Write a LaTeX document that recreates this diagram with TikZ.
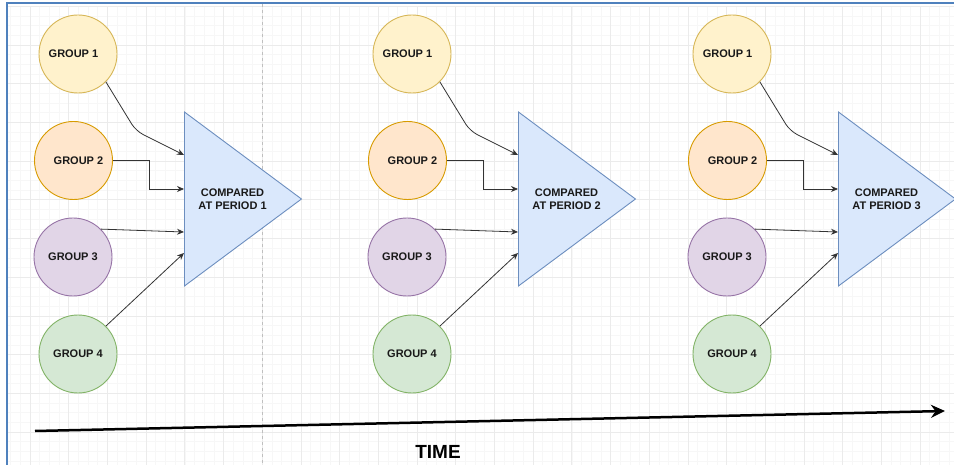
\documentclass[tikz,border=0pt]{standalone}
\usepackage{fontspec}
\setmainfont{Liberation Sans}
\usetikzlibrary{arrows.meta,shapes.geometric,calc}

\definecolor{ylwfill}{HTML}{FFF2CC}
\definecolor{ylwline}{HTML}{D6B656}
\definecolor{orgfill}{HTML}{FFE6CC}
\definecolor{orgline}{HTML}{D79B00}
\definecolor{prpfill}{HTML}{E1D5E7}
\definecolor{prpline}{HTML}{9673A6}
\definecolor{grnfill}{HTML}{D5E8D4}
\definecolor{grnline}{HTML}{82B366}
\definecolor{cmpfill}{HTML}{DAE8FC}
\definecolor{cmpline}{HTML}{6C8EBF}
\definecolor{framecol}{HTML}{4F81BD}

\begin{document}
\begin{tikzpicture}[
    x=1pt, y=-1pt,
    grp/.style={circle, draw, line width=0.9pt, minimum size=78pt, inner sep=0pt},
    grptxt/.style={font=\fontsize{11}{13}\selectfont\bfseries, text=black!90},
    cmp/.style={isosceles triangle, isosceles triangle stretches, shape border rotate=0,
        draw=cmpline, fill=cmpfill, line width=0.9pt, minimum width=174pt,
        minimum height=117pt, inner sep=0pt, anchor=lower side},
    cmptxt/.style={align=center, font=\fontsize{11}{13}\selectfont\bfseries, text=black!90},
    arrow/.style={-{Stealth[length=7pt,width=6pt]}, draw=black!80, line width=0.8pt}
]
\useasboundingbox[fill=white] (0,0) rectangle (954,465);

% Background grid
\begin{scope}
\clip (8,4) rectangle (954,465);
\draw[black!3, line width=0.6pt, shift={(-8.7,6.3)}, step=9.675pt] (0,0) grid (980,480);
\draw[black!8, line width=0.7pt, shift={(-8.7,6.3)}, step=38.7pt] (0,0) grid (980,480);
\end{scope}
\draw[gray!50, line width=0.8pt, dash pattern=on 3pt off 3pt] (262,4) -- (262,465);
\draw[framecol, line width=2pt] (7,465) -- (7,3) -- (954,3);

% Period 1
\node[grp, fill=ylwfill, draw=ylwline, label={[grptxt, xshift=-4.5pt]center:GROUP 1}] (a1) at (78,54) {};
\node[grp, fill=orgfill, draw=orgline, label={[grptxt, xshift=5pt]center:GROUP 2}] (a2) at (73.5,160.5) {};
\node[grp, fill=prpfill, draw=prpline, label={[grptxt]center:GROUP 3}] (a3) at (73,257) {};
\node[grp, fill=grnfill, draw=grnline, label={[grptxt]center:GROUP 4}] (a4) at (78,354) {};
\node[cmp] (ca) at (184,199) {};
\node[cmptxt] (la) at (232.5,199.5) {COMPARED\\AT PERIOD 1};

% Period 2
\node[grp, fill=ylwfill, draw=ylwline, label={[grptxt, xshift=-4.5pt]center:GROUP 1}] (b1) at (412,54) {};
\node[grp, fill=orgfill, draw=orgline, label={[grptxt, xshift=5pt]center:GROUP 2}] (b2) at (407.5,160.5) {};
\node[grp, fill=prpfill, draw=prpline, label={[grptxt]center:GROUP 3}] (b3) at (407,257) {};
\node[grp, fill=grnfill, draw=grnline, label={[grptxt]center:GROUP 4}] (b4) at (412,354) {};
\node[cmp] (cb) at (518,199) {};
\node[cmptxt] (lb) at (566.5,199.5) {COMPARED\\AT PERIOD 2};

% Period 3
\node[grp, fill=ylwfill, draw=ylwline, label={[grptxt, xshift=-4.5pt]center:GROUP 1}] (c1) at (732,54) {};
\node[grp, fill=orgfill, draw=orgline, label={[grptxt, xshift=5pt]center:GROUP 2}] (c2) at (727.5,160.5) {};
\node[grp, fill=prpfill, draw=prpline, label={[grptxt]center:GROUP 3}] (c3) at (727,257) {};
\node[grp, fill=grnfill, draw=grnline, label={[grptxt]center:GROUP 4}] (c4) at (732,354) {};
\node[cmp] (cc) at (838,199) {};
\node[cmptxt] (lc) at (886.5,199.5) {COMPARED\\AT PERIOD 3};

% Arrows
\draw[arrow, rounded corners=8pt] (a1.-45) -- ++(30,49) -- ($(ca.lower side)+(0,-44)$);
\draw[arrow] (a2.east) -- ++(36,0) |- ($(ca.lower side)+(0,-10)$);
\draw[arrow] (a3.45) -- ($(ca.lower side)+(0,33)$);
\draw[arrow] (a4.45) -- ($(ca.lower side)+(0,54)$);
\draw[arrow, rounded corners=8pt] (b1.-45) -- ++(30,49) -- ($(cb.lower side)+(0,-44)$);
\draw[arrow] (b2.east) -- ++(36,0) |- ($(cb.lower side)+(0,-10)$);
\draw[arrow] (b3.45) -- ($(cb.lower side)+(0,33)$);
\draw[arrow] (b4.45) -- ($(cb.lower side)+(0,54)$);
\draw[arrow, rounded corners=8pt] (c1.-45) -- ++(30,49) -- ($(cc.lower side)+(0,-44)$);
\draw[arrow] (c2.east) -- ++(36,0) |- ($(cc.lower side)+(0,-10)$);
\draw[arrow] (c3.45) -- ($(cc.lower side)+(0,33)$);
\draw[arrow] (c4.45) -- ($(cc.lower side)+(0,54)$);

% Time axis
\coordinate (t0) at (35,431);
\coordinate (t1) at (945,411);
\draw[line width=2.5pt, -{Stealth[length=14pt,width=13pt]}] (t0) -- (t1);
\node[font=\fontsize{19}{22}\selectfont\bfseries] (time) at (438,452) {TIME};
\end{tikzpicture}
\end{document}
